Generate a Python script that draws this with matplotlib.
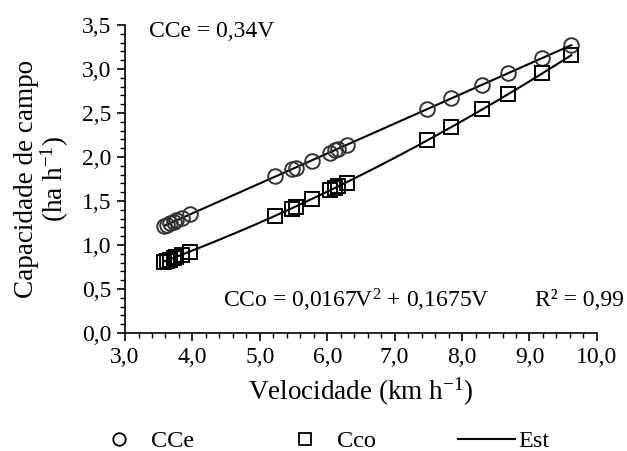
import matplotlib
matplotlib.use("Agg")
import matplotlib.pyplot as plt
import numpy as np
from matplotlib.ticker import MultipleLocator, FuncFormatter
from matplotlib.lines import Line2D

# Data
v_points = [3.58, 3.63, 3.67, 3.72, 3.76, 3.85, 3.97,
            5.23, 5.48, 5.54, 5.77, 6.04, 6.12, 6.16, 6.29,
            7.48, 7.84, 8.30, 8.68, 9.19, 9.62]
cce_values = [1.22, 1.23, 1.25, 1.26, 1.28, 1.31, 1.35,
              1.78, 1.86, 1.88, 1.96, 2.05, 2.08, 2.09, 2.14,
              2.55, 2.67, 2.82, 2.95, 3.12, 3.27]
cco_values = [0.81, 0.82, 0.83, 0.85, 0.86, 0.89, 0.92,
              1.33, 1.41, 1.43, 1.52, 1.62, 1.65, 1.67, 1.71,
              2.19, 2.34, 2.54, 2.72, 2.95, 3.16]

# Fitted model coefficients shown on the chart
cce_slope = 0.34
cco_quad = 0.0167
cco_lin = 0.1675

x_ticks = [3.0, 4.0, 5.0, 6.0, 7.0, 8.0, 9.0, 10.0]
y_ticks = [0.0, 0.5, 1.0, 1.5, 2.0, 2.5, 3.0, 3.5]

plt.rcParams['font.family'] = ['Liberation Serif', 'DejaVu Serif']
plt.rcParams['mathtext.fontset'] = 'custom'
plt.rcParams['mathtext.rm'] = 'Liberation Serif'
plt.rcParams['mathtext.it'] = 'Liberation Serif:italic'
plt.rcParams['mathtext.bf'] = 'Liberation Serif:bold'
FS = 17
FS_LAB = 19.5

fig = plt.figure(figsize=(6.27, 4.51), dpi=100)
ax = fig.add_axes([0.1994, 0.2616, 0.7526, 0.683])

vfit = np.linspace(min(v_points), max(v_points), 200)
ax.plot(vfit, cce_slope * vfit, color='black', lw=1.5, zorder=2)
ax.plot(vfit, cco_quad * vfit**2 + cco_lin * vfit, color='black', lw=1.5, zorder=2)

ax.plot(v_points, cce_values, linestyle='none', marker='o', ms=10.5,
        mfc='none', mec='#333333', mew=1.4, zorder=3)
ax.plot(v_points, cco_values, linestyle='none', marker='s', ms=10,
        mfc='none', mec='black', mew=1.4, zorder=3)

ax.set_xlim(3.0, 10.0)
ax.set_ylim(0.0, 3.5)
ax.set_xticks(x_ticks)
ax.set_yticks(y_ticks)
ax.xaxis.set_minor_locator(MultipleLocator(0.2))
ax.yaxis.set_minor_locator(MultipleLocator(0.1))
fmt = FuncFormatter(lambda v, p: f"{v:.1f}".replace('.', ','))
ax.xaxis.set_major_formatter(fmt)
ax.yaxis.set_major_formatter(fmt)
ax.tick_params(which='major', direction='out', length=6, width=1.2, labelsize=FS, pad=4)
ax.tick_params(which='minor', direction='out', length=3.5, width=1.0)
for s in ['top', 'right']:
    ax.spines[s].set_visible(False)
for s in ['left', 'bottom']:
    ax.spines[s].set_linewidth(1.2)

ax.set_xlabel('Velocidade (km h$^{\\mathregular{-1}}$)', fontsize=FS_LAB, labelpad=6)
ax.set_ylabel('Capacidade de campo\n(ha h$^{\\mathregular{-1}}$)', fontsize=FS_LAB,
              labelpad=8, linespacing=0.95)

ax.text(3.35, 3.43, 'CCe = 0,34V', fontsize=FS, va='center', ha='left')
ax.text(4.45, 0.375, 'CCo = 0,0167V$^{\\mathregular{2}}$ + 0,1675V', fontsize=FS,
        va='center', ha='left')
ax.text(9.08, 0.375, 'R² = 0,99', fontsize=FS, va='center', ha='left', clip_on=False)

handles = [
    Line2D([], [], linestyle='none', marker='o', ms=9, mfc='none', mec='black', mew=1.3),
    Line2D([], [], linestyle='none', marker='s', ms=9, mfc='none', mec='black', mew=1.3),
    Line2D([], [], color='black', lw=1.5),
]
fig.legend(handles, ['CCe', 'Cco', 'Est'], loc='center',
           bbox_to_anchor=(320 / 627, 1 - 441 / 451),
           ncol=3, frameon=False, fontsize=17.5, columnspacing=3.4, handlelength=2.35,
           handletextpad=0.12, borderpad=0.0)

fig.savefig('out.png', dpi=100)
